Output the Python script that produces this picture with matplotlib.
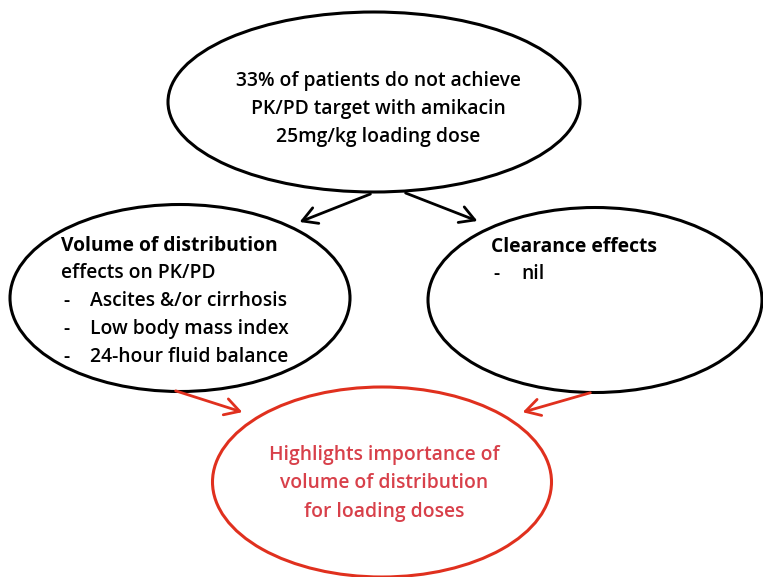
import matplotlib.pyplot as plt
from matplotlib.patches import Ellipse, FancyArrowPatch

plt.rcParams['font.family'] = ['Open Sans', 'DejaVu Sans']

# texts of the diagram
top_lines = ['33% of patients do not achieve', 'PK/PD target with amikacin', '25mg/kg loading dose']
vd_title = 'Volume of distribution'
vd_sub = 'effects on PK/PD'
vd_items = ['Ascites &/or cirrhosis', 'Low body mass index', '24-hour fluid balance']
cl_title = 'Clearance effects'
cl_items = ['nil']
result_lines = ['Highlights importance of', 'volume of distribution', 'for loading doses']

red = '#e0301e'
red_txt = '#d8404a'

fig = plt.figure(figsize=(7.63, 5.77), dpi=100)
ax = fig.add_axes([0, 0, 1, 1])
ax.set_xlim(0, 763)
ax.set_ylim(577, 0)
ax.axis('off')

# ellipses (pixel coords)
ax.add_patch(Ellipse((374, 102), 412, 180, fill=False, ec='black', lw=2.2))
ax.add_patch(Ellipse((180, 298), 340, 187, fill=False, ec='black', lw=2.2))
ax.add_patch(Ellipse((595, 300), 334, 185, fill=False, ec='black', lw=2.2))
ax.add_patch(Ellipse((382, 482), 339, 190, fill=False, ec=red, lw=2.2))

def arrow(p0, p1, c):
    ax.add_patch(FancyArrowPatch(p0, p1, arrowstyle='->,head_length=7,head_width=4',
                                 color=c, lw=2, mutation_scale=1.5))

arrow((373, 193), (297, 223), 'black')
arrow((403, 192), (480, 222), 'black')
arrow((173, 390), (245, 413), red)
arrow((593, 392), (520, 413), red)

fs = 13.9
w = 'semibold'
for i, s in enumerate(top_lines):
    ax.text(378, 81 + i * 28, s, ha='center', va='center', fontsize=fs, fontweight=w)

ax.text(61, 246, vd_title, ha='left', va='center', fontsize=fs, fontweight='bold')
ax.text(61, 273, vd_sub, ha='left', va='center', fontsize=fs, fontweight=w)
for i, s in enumerate(vd_items):
    y = 301 + i * 28
    ax.text(63, y, '-', ha='left', va='center', fontsize=fs, fontweight=w)
    ax.text(90, y, s, ha='left', va='center', fontsize=fs, fontweight=w)

ax.text(491, 247, cl_title, ha='left', va='center', fontsize=fs, fontweight='bold')
for i, s in enumerate(cl_items):
    y = 274 + i * 28
    ax.text(493, y, '-', ha='left', va='center', fontsize=fs, fontweight=w)
    ax.text(521, y, s, ha='left', va='center', fontsize=fs, fontweight=w)

for i, s in enumerate(result_lines):
    ax.text(384, 455 + i * 28.5, s, ha='center', va='center', fontsize=fs,
            fontweight=w, color=red_txt)

fig.savefig('out.png', dpi=100)
